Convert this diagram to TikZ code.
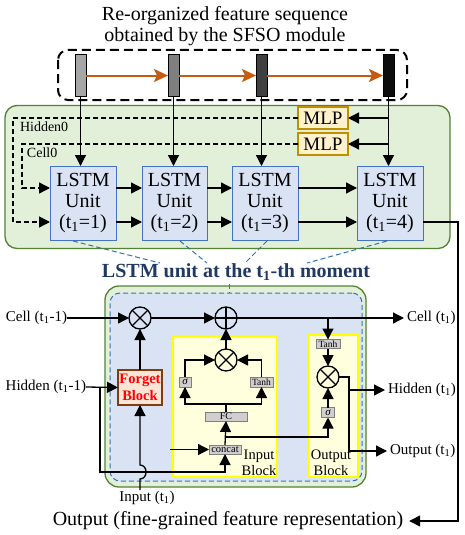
\documentclass[tikz,border=0pt]{standalone}
\usepackage{fontspec}
\setmainfont{Liberation Serif}
\usetikzlibrary{arrows.meta,calc}
\definecolor{gfill}{HTML}{E2F0D9}
\definecolor{gdraw}{HTML}{548235}
\definecolor{bfill}{HTML}{DAE3F3}
\definecolor{bdraw}{HTML}{4472C4}
\definecolor{dblue}{HTML}{2E75B6}
\definecolor{mfill}{HTML}{FFF2CC}
\definecolor{mdraw}{HTML}{BF9000}
\definecolor{orng}{HTML}{C55A11}
\definecolor{yfill}{HTML}{FFFFDD}
\definecolor{ydraw}{HTML}{FFFF00}
\definecolor{ffill}{HTML}{FBE5D6}
\definecolor{fdraw}{HTML}{843C0C}
\definecolor{ttl}{HTML}{203864}
\definecolor{gyfill}{HTML}{D0CECE}
\definecolor{gydraw}{HTML}{7F7F7F}
\definecolor{bar1c}{HTML}{A6A6A6}
\definecolor{bar2c}{HTML}{7F7F7F}
\definecolor{bar3c}{HTML}{404040}
\definecolor{bar4c}{HTML}{0D0D0D}
\newcommand\tone{t\textsubscript{1}}
\begin{document}
\begin{tikzpicture}[x=1pt,y=-1pt,
  every node/.style={inner sep=0pt, outer sep=0pt},
  arr/.style={-{Triangle[length=11pt,width=11pt]}, line width=1.3pt},
  ln/.style={line width=1.3pt},
  darr/.style={arr, dash pattern=on 5pt off 3pt},
  oarr/.style={-{Stealth[length=14pt,width=13pt,inset=3pt]}, line width=2pt, draw=orng},
  unitbox/.style={draw=bdraw, fill=bfill, line width=1pt, minimum width=66pt, minimum height=74pt, align=center, font=\fontsize{20}{21}\selectfont},
  mlpbox/.style={draw=mdraw, fill=mfill, line width=1.3pt, minimum width=50pt, minimum height=22pt, font=\fontsize{19}{20}\selectfont},
  barbox/.style={draw=black, line width=1pt, minimum width=11pt, minimum height=42pt},
  gbox/.style={draw=gydraw, fill=gyfill, line width=0.8pt, font=\fontsize{9.5}{10}\selectfont},
  yblock/.style={draw=ydraw, fill=yfill, line width=1.6pt},
  opcirc/.style={draw, circle, line width=1.3pt, minimum size=22pt},
  lbl/.style={font=\fontsize{15}{16}\selectfont},
  persp/.style={draw=dblue, line width=1pt, dash pattern=on 5pt off 3pt},
]
\useasboundingbox (0,0) rectangle (464,535);

% ---------- top title and sequence ----------
\node[align=center, font=\fontsize{20}{21}\selectfont] (title) at (225,26) {Re-organized feature sequence\\obtained by the SFSO module};

% upper green box
\node[draw=gdraw, fill=gfill, line width=1.3pt, rounded corners=12pt, minimum width=445pt, minimum height=143pt] (upbox) at (227.5,177) {};

\draw[line width=2pt, dash pattern=on 9pt off 5pt, rounded corners=10pt] (58,50) rectangle (407,100);

\node[barbox, fill=bar1c] (bar1) at (80.5,75.5) {};
\node[barbox, fill=bar2c] (bar2) at (173.5,75.5) {};
\node[barbox, fill=bar3c] (bar3) at (261.5,75.5) {};
\node[barbox, fill=bar4c] (bar4) at (388.5,75.5) {};
\draw[oarr] (bar1.east) -- (bar2.west);
\draw[oarr] (bar2.east) -- (bar3.west);
\draw[oarr] (bar3.east) -- (bar4.west);

% LSTM units
\node[unitbox] (u1) at (83,203) {LSTM\\Unit\\(\tone=1)};
\node[unitbox, minimum width=65pt] (u2) at (174.5,203) {LSTM\\Unit\\(\tone=2)};
\node[unitbox] (u3) at (265,203) {LSTM\\Unit\\(\tone=3)};
\node[unitbox] (u4) at (390,203) {LSTM\\Unit\\(\tone=4)};

\node[mlpbox] (mlp1) at (323,118) {MLP};
\node[mlpbox] (mlp2) at (323,144) {MLP};

\draw[arr] (bar1.south) -- (bar1.south |- u1.north);
\draw[arr] (bar2.south) -- (bar2.south |- u2.north);
\draw[arr] (bar3.south) -- (bar3.south |- u3.north);
\draw[arr] (bar4.south) -- (bar4.south |- u4.north);
\draw[arr] (bar4.south |- mlp1.east) -- (mlp1.east);
\draw[arr] (bar4.south |- mlp2.east) -- (mlp2.east);

\coordinate (h0) at (13,118);
\coordinate (c0) at (22,144);
\draw[darr] (mlp1.west) -- (h0) |- ([yshift=-19pt]u1.west);
\draw[darr] (mlp2.west) -- (c0) |- ([yshift=15pt]u1.west);
\node[anchor=west, font=\fontsize{14}{15}\selectfont] (hid0) at (20,127) {Hidden0};
\node[anchor=west, font=\fontsize{14}{15}\selectfont] (cel0) at (27,153) {Cell0};

\draw[arr] ([yshift=15pt]u1.east) -- ([yshift=15pt]u2.west);
\draw[arr] ([yshift=-19pt]u1.east) -- ([yshift=-19pt]u2.west);
\draw[arr] ([yshift=15pt]u2.east) -- ([yshift=15pt]u3.west);
\draw[arr] ([yshift=-19pt]u2.east) -- ([yshift=-19pt]u3.west);
\draw[arr] ([yshift=15pt]u3.east) -- ([yshift=15pt]u4.west);
\draw[arr] ([yshift=-19pt]u3.east) -- ([yshift=-19pt]u4.west);

% final output
\node[font=\fontsize{20}{21}\selectfont] (outtxt) at (228,521) {Output (fine-grained feature representation)};
\coordinate (rc) at (458,521);
\draw[arr] ([yshift=-19pt]u4.east) -| (rc) -- ([xshift=6pt]outtxt.east);

% perspective lines
\coordinate (pa1) at (73,241);  \coordinate (pb1) at (160,263);
\coordinate (pa2) at (180,241); \coordinate (pb2) at (207,263);
\coordinate (pa3) at (267,241); \coordinate (pb3) at (245,263);
\coordinate (pa4) at (387,241); \coordinate (pb4) at (307,263);
\draw[persp] (pa1) -- (pb1);
\draw[persp] (pa2) -- (pb2);
\draw[persp] (pa3) -- (pb3);
\draw[persp] (pa4) -- (pb4);

\node[font=\bfseries\fontsize{20}{21}\selectfont, text=ttl] (ltitle) at (236,272) {LSTM unit at the \tone-th moment};

% ---------- lower detail ----------
\node[draw=gdraw, fill=gfill, line width=1.3pt, rounded corners=14pt, minimum width=261pt, minimum height=201pt] (lowbox) at (235.5,386.5) {};
\node[draw=dblue, fill=bfill, line width=1pt, dash pattern=on 5pt off 3pt, rounded corners=10pt, minimum width=252pt, minimum height=188pt] (inbox) at (236,387) {};
\coordinate (tka) at (229,284); \coordinate (tkb) at (229,293);
\draw[persp] (tka) -- (tkb);

\node[yblock, minimum width=104pt, minimum height=141pt] (inblk) at (225,406.5) {};
\node[yblock, minimum width=50pt, minimum height=142pt] (outblk) at (333,406) {};
\node[align=center, font=\fontsize{14.5}{16}\selectfont] (inblktxt) at (259,463) {Input\\Block};
\node[align=center, font=\fontsize{14.5}{16}\selectfont] (outblktxt) at (331,463) {Output\\Block};

% operators
\node[opcirc] (m1) at (140,318) {};
\node[opcirc] (p1) at (226,318) {};
\node[opcirc] (m2) at (226,360) {};
\node[opcirc] (m3) at (328,377) {};
\draw[ln] (m1.north east) -- (m1.south west) (m1.north west) -- (m1.south east);
\draw[ln] (m2.north east) -- (m2.south west) (m2.north west) -- (m2.south east);
\draw[ln] (m3.north east) -- (m3.south west) (m3.north west) -- (m3.south east);
\draw[ln] (p1.north) -- (p1.south) (p1.west) -- (p1.east);

% boxes
\node[draw=fdraw, fill=ffill, line width=1.5pt, minimum width=44pt, minimum height=35pt, align=center, text=red, font=\bfseries\fontsize{14.5}{17}\selectfont] (forget) at (140,387.5) {Forget\\Block};
\node[gbox, minimum width=12pt, minimum height=10pt, font=\itshape\fontsize{11}{11}\selectfont] (sig1) at (185,382) {σ};
\node[gbox, minimum width=23pt, minimum height=10pt] (tanh1) at (261.5,382) {Tanh};
\node[gbox, minimum width=42pt, minimum height=9pt, font=\fontsize{10}{10}\selectfont] (fc) at (226,416.5) {FC};
\node[gbox, minimum width=32pt, minimum height=9pt, font=\fontsize{10.5}{10}\selectfont] (concat) at (225,449.5) {concat};
\node[gbox, minimum width=24pt, minimum height=9pt] (tanh2) at (328,344) {Tanh};
\node[gbox, minimum width=13pt, minimum height=10pt, font=\itshape\fontsize{11}{11}\selectfont] (sig2) at (328,412.5) {σ};

% labels
\node[lbl, anchor=east] (celltxt) at (67,318) {Cell (\tone-1)};
\node[lbl, anchor=east] (hidtxt) at (86,387) {Hidden (\tone-1)};
\node[lbl, anchor=west] (cellout) at (407,318) {Cell (\tone)};
\node[lbl, anchor=west] (hidout) at (388,390) {Hidden (\tone)};
\node[lbl, anchor=west] (outout) at (390,451) {Output (\tone)};
\node[lbl] (inp) at (147,498) {Input (\tone)};

% cell path
\draw[arr] (celltxt.east) -- (m1.west);
\draw[arr] (m1.east) -- (p1.west);
\draw[arr] (p1.east) -- ([xshift=-3pt]cellout.west);
\draw[arr] (forget.north) -- (m1.south);
\draw[arr] (m2.north) -- (p1.south);

% hidden path
\coordinate (hj) at (100,387);
\coordinate (hb) at (100,472);
\draw[arr] (hidtxt.east) -- (forget.west);
\draw[arr] (hj) |- (concat.south |- hb) -- (concat.south);

% input path with hop
\coordinate (ia) at (140,490);
\coordinate (ib) at (140,479);
\coordinate (ic) at (140,465);
\coordinate (ic1) at (148,479);
\coordinate (ic2) at (148,465);
\draw[arr] (ia) -- (ib) .. controls (ic1) and (ic2) .. (ic) -- (forget.south);
\coordinate (cin) at (170,449.5);
\draw[arr] (cin) -- (concat.west);

% input block internals
\draw[arr] (concat.north) -- (fc.south);
\coordinate (fct) at (226,404);
\draw[ln] (fc.north) -- (fct);
\draw[arr] (fct) -| (sig1.south);
\draw[arr] (fct) -| (tanh1.south);
\draw[arr] (sig1.north) |- (m2.west);
\draw[arr] (tanh1.north) |- (m2.east);
\coordinate (fb) at (225,437);
\draw[arr] (fb) -| (sig2.south);

% output block internals
\coordinate (ct) at (328,318);
\draw[arr] (ct) -- (tanh2.north);
\draw[arr] (tanh2.south) -- (m3.north);
\draw[arr] (sig2.north) -- (m3.south);
\coordinate (oj) at (349,451);
\coordinate (hj2) at (349,390);
\draw[arr] (m3.east) -| (oj) -- ([xshift=-3pt]outout.west);
\draw[arr] (hj2) -- ([xshift=-3pt]hidout.west);
\end{tikzpicture}
\end{document}
